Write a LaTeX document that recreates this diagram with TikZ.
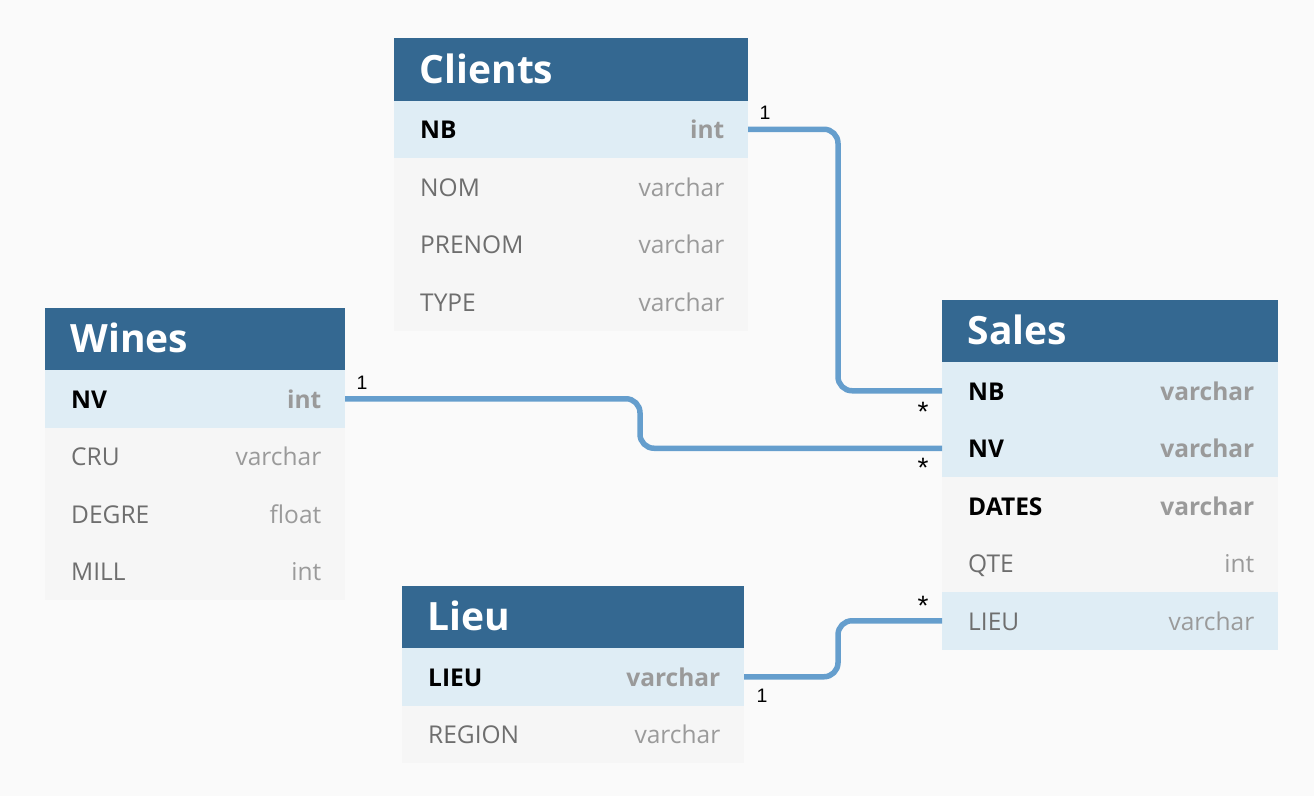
\documentclass[tikz,border=0pt]{standalone}
\usepackage{fontspec}
\setmainfont{Open Sans}
\newfontfamily\lblfont{Liberation Sans}
\definecolor{bgc}{HTML}{FAFAFA}
\definecolor{headc}{HTML}{346891}
\definecolor{keyrow}{HTML}{DFEDF5}
\definecolor{plainrow}{HTML}{F6F6F6}
\definecolor{namec}{HTML}{6E6E6E}
\definecolor{typec}{HTML}{9A9A9A}
\definecolor{relc}{HTML}{659ECD}
\newcommand\erfont{\fontsize{24.5}{29}\selectfont}
\newcommand\erheadfont{\fontsize{39}{46}\selectfont\bfseries}
\newcommand\erlblfont{\lblfont\fontsize{19.5}{22}\selectfont}
\newcommand\erstarfont{\lblfont\fontsize{28}{32}\selectfont}
\tikzset{
  rowbox/.style={draw=none, inner sep=0pt, outer sep=0pt, minimum height=57.5pt},
  headbox/.style={draw=none, fill=headc, inner sep=0pt, outer sep=0pt, minimum height=62.5pt},
  headtext/.style={inner sep=0pt, font=\erheadfont, text=white},
  keyname/.style={inner sep=0pt, font=\erfont\bfseries, text=black},
  plainname/.style={inner sep=0pt, font=\erfont, text=namec},
  keytype/.style={inner sep=0pt, font=\erfont\bfseries, text=typec},
  plaintype/.style={inner sep=0pt, font=\erfont, text=typec},
  rel/.style={draw=relc, line width=5.5pt, rounded corners=14pt},
  card/.style={inner sep=0pt, font=\erlblfont, text=black, anchor=base},
  starcard/.style={inner sep=0pt, font=\erstarfont, text=black, anchor=base},
}
% #1 id, #2 x, #3 top, #4 width, #5 fill, #6 name style, #7 type style, #8 name, #9 type
\newcommand\erow[9]{%
  \node[rowbox, minimum width=#4pt, fill=#5, anchor=north west] (#1) at (#2,#3) {};
  \node[#6, anchor=base west] (#1-n) at ([xshift=26pt,yshift=-9.5pt]#1.west) {#8};
  \node[#7, anchor=base east] (#1-t) at ([xshift=-23.5pt,yshift=-9.5pt]#1.east) {#9};
}
% #1 id, #2 x, #3 top, #4 width, #5 title
\newcommand\erhead[5]{%
  \node[headbox, minimum width=#4pt, anchor=north west] (#1) at (#2,#3) {};
  \node[headtext, anchor=base west] (#1-t) at ([xshift=25.5pt,yshift=-45pt]#1.north west) {#5};
}
\begin{document}
\begin{tikzpicture}[x=1pt,y=-1pt]
\fill[bgc] (0,0) rectangle (1314,796);
\useasboundingbox (0,0) rectangle (1314,796);

% Clients
\erhead{cl}{394}{38}{354}{Clients}
\erow{cl-nb}{394}{100.5}{354}{keyrow}{keyname}{keytype}{NB}{int}
\erow{cl-nom}{394}{158}{354}{plainrow}{plainname}{plaintype}{NOM}{varchar}
\erow{cl-prenom}{394}{215.5}{354}{plainrow}{plainname}{plaintype}{PRENOM}{varchar}
\erow{cl-type}{394}{273}{354}{plainrow}{plainname}{plaintype}{TYPE}{varchar}

% Wines
\erhead{wi}{45}{307.5}{300}{Wines}
\erow{wi-nv}{45}{370}{300}{keyrow}{keyname}{keytype}{NV}{int}
\erow{wi-cru}{45}{427.5}{300}{plainrow}{plainname}{plaintype}{CRU}{varchar}
\erow{wi-degre}{45}{485}{300}{plainrow}{plainname}{plaintype}{DEGRE}{float}
\erow{wi-mill}{45}{542.5}{300}{plainrow}{plainname}{plaintype}{MILL}{int}

% Sales
\erhead{sa}{942}{299.5}{336}{Sales}
\erow{sa-nb}{942}{362}{336}{keyrow}{keyname}{keytype}{NB}{varchar}
\erow{sa-nv}{942}{419.5}{336}{keyrow}{keyname}{keytype}{NV}{varchar}
\erow{sa-dates}{942}{477}{336}{plainrow}{keyname}{keytype}{DATES}{varchar}
\erow{sa-qte}{942}{534.5}{336}{plainrow}{plainname}{plaintype}{QTE}{int}
\erow{sa-lieu}{942}{592}{336}{keyrow}{plainname}{plaintype}{LIEU}{varchar}

% Lieu
\erhead{li}{402}{585.5}{342}{Lieu}
\erow{li-lieu}{402}{648}{342}{keyrow}{keyname}{keytype}{LIEU}{varchar}
\erow{li-region}{402}{705.5}{342}{plainrow}{plainname}{plaintype}{REGION}{varchar}

% connectors
\coordinate (k1) at (838,0);
\coordinate (k2) at (640,0);
\draw[rel] (cl-nb.east) -| (k1 |- sa-nb.west) -- (sa-nb.west);
\draw[rel] (wi-nv.east) -| (k2 |- sa-nv.west) -- (sa-nv.west);
\draw[rel] (li-lieu.east) -| (k1 |- sa-lieu.west) -- (sa-lieu.west);

% cardinalities
\node[card] (c1a) at (765,119) {1};
\node[starcard] (c1b) at (923,421) {*};
\node[card] (c2a) at (362,389) {1};
\node[starcard] (c2b) at (923,477) {*};
\node[card] (c3a) at (762,702) {1};
\node[starcard] (c3b) at (923,615) {*};
\end{tikzpicture}
\end{document}
